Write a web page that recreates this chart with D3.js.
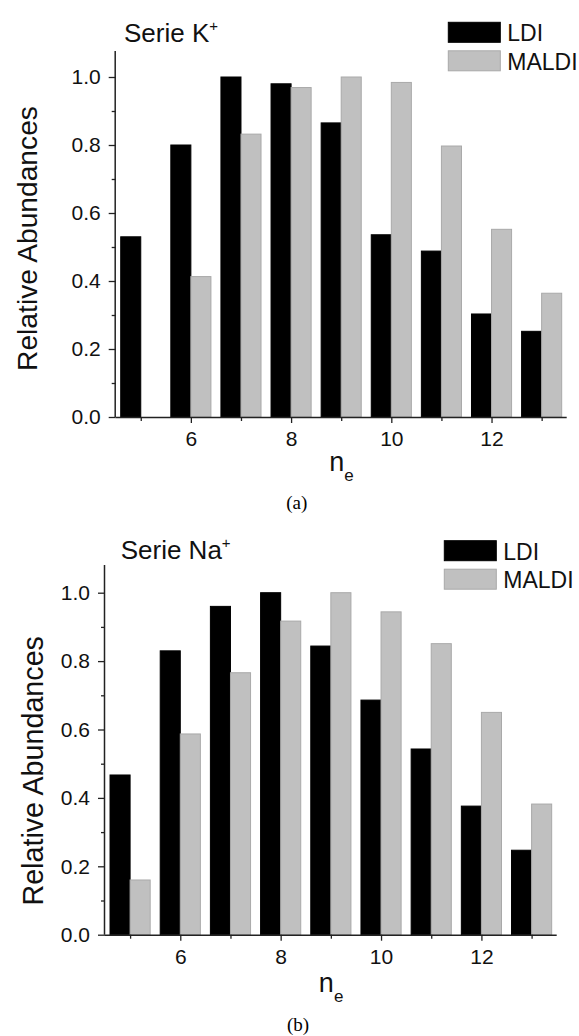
<!DOCTYPE html>
<html>
<head>
<meta charset="utf-8">
<script src="https://cdn.jsdelivr.net/npm/d3@7"></script>
<style>
  body { margin: 0; background: #fff; }
  svg { display: block; font-family: "Liberation Sans", Arial, sans-serif; }
  .domain { stroke: #222; stroke-width: 1.5; }
  .tick line { stroke: #222; stroke-width: 1.3; }
</style>
</head>
<body>
<svg id="chart" width="579" height="1036"></svg>
<script>
// data
var nValues = [5, 6, 7, 8, 9, 10, 11, 12, 13];
var kLdi   = [0.53, 0.80, 1.00, 0.98, 0.865, 0.536, 0.488, 0.303, 0.252];
var kMaldi = [0.00, 0.413, 0.832, 0.969, 1.00, 0.984, 0.797, 0.552, 0.364];
var naLdi   = [0.467, 0.83, 0.96, 1.00, 0.844, 0.686, 0.543, 0.376, 0.247];
var naMaldi = [0.160, 0.587, 0.766, 0.917, 1.00, 0.944, 0.851, 0.650, 0.382];
var xMajor = [6, 8, 10, 12];
var xMinor = [5, 7, 9, 11, 13];
var yMajor = [0, 0.2, 0.4, 0.6, 0.8, 1.0];
var yMinor = [0.1, 0.3, 0.5, 0.7, 0.9];
var seriesNames = ["LDI", "MALDI"];
var colors = ["#000000", "#c0c0c0"];
var strokes = ["#000000", "#a9a9a9"];

var svg = d3.select("#chart");

// panel layout
var panels = [
  {ion: "K", ldi: kLdi, maldi: kMaldi, left: 115.7, top: 51, right: 566.7, bottom: 417,
   titleX: 124, titleY: 42.3, legX: 448.3, legY: 22.3, labelX: 36.7, labelY: 238.5, labelSize: 28.2,
   neY: 471, capX: 296.7, capY: 509, cap: "(a)"},
  {ion: "Na", ldi: naLdi, maldi: naMaldi, left: 105, top: 565, right: 556.7, bottom: 934.7,
   titleX: 120.7, titleY: 559.3, legX: 444.3, legY: 540.7, labelX: 43.3, labelY: 770.8, labelSize: 28.7,
   neY: 992.3, capX: 298, capY: 1031, cap: "(b)"}
];

panels.forEach(function(p) {
  var x = d3.scaleLinear().domain([4.5, 13.5]).range([p.left, p.right]);
  var zeroY = p.bottom;
  var y = d3.scaleLinear().domain([0, 1]).range([zeroY, zeroY - (p.ion == "K" ? 340 : 342)]);
  y.domain([0, y.invert(p.top)]).range([zeroY, p.top]);

  var g = svg.append("g");

  // bars
  var rows = nValues.map(function(n, i) { return {n: n, v: [p.ldi[i], p.maldi[i]]}; });
  [0, 1].forEach(function(s) {
    g.selectAll(".bar" + s)
      .data(rows.filter(function(d) { return d.v[s] > 0; }))
      .enter().append("rect")
      .attr("x", function(d) { return s == 0 ? x(d.n - 0.4) : x(d.n); })
      .attr("width", x(4.9) - x(4.5))
      .attr("y", function(d) { return y(d.v[s]); })
      .attr("height", function(d) { return y(0) - y(d.v[s]); })
      .attr("fill", colors[s])
      .attr("stroke", strokes[s])
      .attr("stroke-width", 1);
  });

  // axes
  var xMin = g.append("g").attr("transform", "translate(0," + p.bottom + ")")
    .call(d3.axisBottom(x).tickValues(xMinor).tickSize(4).tickFormat(""));
  xMin.select(".domain").attr("d", "M" + p.left + ",0.5H" + p.right);
  var xMaj = g.append("g").attr("transform", "translate(0," + p.bottom + ")")
    .call(d3.axisBottom(x).tickValues(xMajor).tickSize(6).tickPadding(8).tickSizeOuter(0));
  xMaj.select(".domain").remove();
  xMaj.selectAll("text").attr("font-size", 21).attr("fill", "#111")
    .attr("font-family", "Liberation Sans, Arial, sans-serif");

  var yMin = g.append("g").attr("transform", "translate(" + p.left + ",0)")
    .call(d3.axisLeft(y).tickValues(yMinor).tickSize(4).tickFormat(""));
  yMin.select(".domain").attr("d", "M-0.5," + p.top + "V" + p.bottom);
  var yMaj = g.append("g").attr("transform", "translate(" + p.left + ",0)")
    .call(d3.axisLeft(y).tickValues(yMajor).tickSize(7).tickPadding(8).tickFormat(d3.format(".1f")));
  yMaj.select(".domain").remove();
  yMaj.selectAll("text").attr("font-size", 21).attr("fill", "#111")
    .attr("font-family", "Liberation Sans, Arial, sans-serif");

  // title
  var t = g.append("text").attr("x", p.titleX).attr("y", p.titleY)
    .attr("font-size", 26).attr("fill", "#111");
  t.append("tspan").text("Serie " + p.ion);
  t.append("tspan").attr("font-size", 15).attr("dy", -11).text("+");

  // y label
  g.append("text")
    .attr("transform", "translate(" + p.labelX + "," + p.labelY + ") rotate(-90)")
    .attr("text-anchor", "middle").attr("font-size", p.labelSize).attr("fill", "#111")
    .text("Relative Abundances");

  // x label
  var xl = g.append("text").attr("x", (p.left + p.right) / 2 - 12).attr("y", p.neY)
    .attr("font-size", 27).attr("fill", "#111");
  xl.append("tspan").text("n");
  xl.append("tspan").attr("font-size", 17).attr("dy", 10).text("e");

  // legend
  seriesNames.forEach(function(name, i) {
    g.append("rect").attr("x", p.legX).attr("y", p.legY + i * 28.5)
      .attr("width", 52).attr("height", 20)
      .attr("fill", colors[i]).attr("stroke", strokes[i]);
    g.append("text").attr("x", p.legX + 59).attr("y", p.legY + i * 28.5 + 19)
      .attr("font-size", 23).attr("fill", "#111").text(name);
  });

  // caption
  svg.append("text").attr("x", p.capX).attr("y", p.capY)
    .attr("text-anchor", "middle").attr("font-size", 19)
    .attr("font-family", "Liberation Serif, Times New Roman, serif")
    .text(p.cap);
});
</script>
</body>
</html>
